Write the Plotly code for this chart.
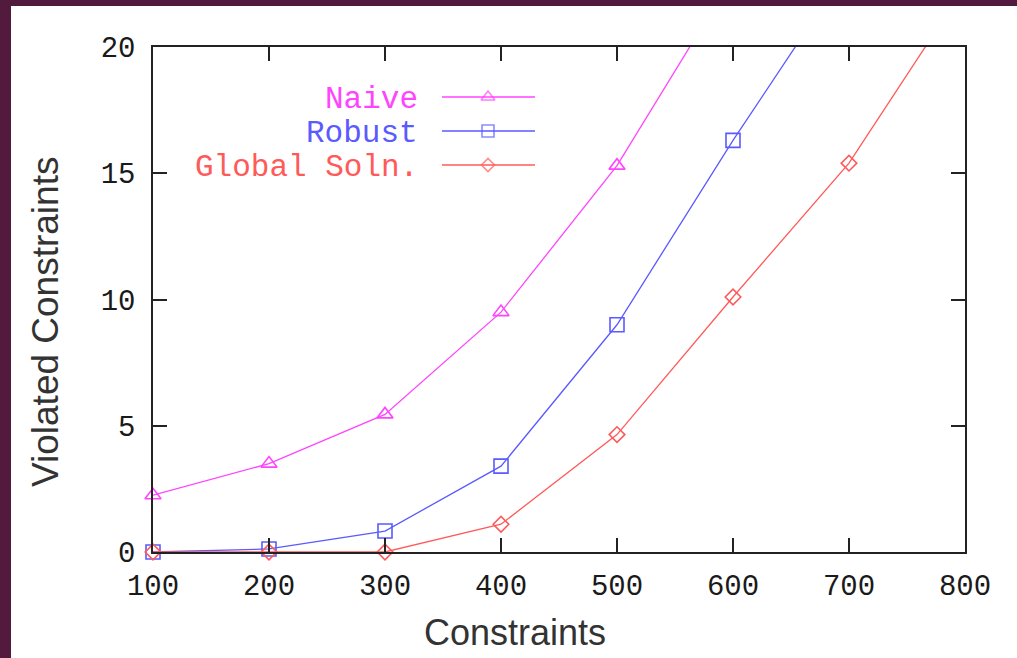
import plotly.graph_objects as go

# ---- data ----
constraints = [100, 200, 300, 400, 500, 600, 700, 800]
naive = [2.25, 3.5, 5.45, 9.5, 15.3, 22.8]
robust = [0.0, 0.12, 0.83, 3.4, 9.0, 16.3, 23.2]
global_soln = [0.0, 0.0, 0.0, 1.1, 4.65, 10.1, 15.4, 22.4]
series_names = ["Naive", "Robust", "Global Soln."]
x_ticks = [100, 200, 300, 400, 500, 600, 700, 800]
y_ticks = [0, 5, 10, 15, 20]
y_max = 20

colors = ["#ff44ff", "#5a5aff", "#ff5a5a"]
symbols = ["triangle-up-open", "square-open", "diamond-open"]
msizes = [14, 14, 12]
series = [naive, robust, global_soln]

W, H = 1017, 658
L, R, T, B = 153, 965, 47, 552
pw, ph = R - L, B - T

def px(xp):
    return (xp - L) / pw

def py(yp):
    return (B - yp) / ph

fig = go.Figure()
for name, vals, c, s, ms in zip(series_names, series, colors, symbols, msizes):
    xs = constraints[:len(vals)]
    # line (clipped to plot area)
    fig.add_trace(go.Scatter(
        x=xs, y=vals, mode="lines", name=name,
        line=dict(color=c, width=1.3), showlegend=False,
    ))
    # markers for in-range points, not clipped at the axes
    mx = [x for x, v in zip(xs, vals) if v <= y_max]
    my = [v for v in vals if v <= y_max]
    fig.add_trace(go.Scatter(
        x=mx, y=my, mode="markers", name=name, cliponaxis=False,
        marker=dict(symbol=s, size=ms, color=c, line=dict(color=c, width=1.6)),
        showlegend=False,
    ))

# legend key samples (layout, on a helper 0..1 axis pair)
legend_rows = [97, 131, 165]
for name, c, s, ms, ry in zip(series_names, colors, symbols, msizes, legend_rows):
    yy = py(ry)
    fig.add_trace(go.Scatter(
        x=[px(442), px(488), px(535)], y=[yy, yy, yy], mode="lines+markers",
        xaxis="x2", yaxis="y2", showlegend=False, hoverinfo="skip",
        line=dict(color=c, width=1.3),
        marker=dict(symbol=s, size=[0, ms - 2, 0], color=c, line=dict(color=c, width=1.6)),
    ))
    fig.add_annotation(
        text=name, xref="paper", yref="paper", x=px(420), y=py(ry + 2),
        xanchor="right", yanchor="middle", showarrow=False,
        font=dict(family="Liberation Mono", size=31, color=c),
    )

# white inner panel over dark frame
fig.add_shape(type="rect", xref="paper", yref="paper", layer="below",
              x0=px(11), x1=px(1030), y0=py(670), y1=py(6),
              fillcolor="white", line=dict(width=0))

axis_common = dict(
    showgrid=False, zeroline=False, showline=True, linecolor="#222222", linewidth=1.5,
    mirror="ticks", ticks="inside", ticklen=14, tickwidth=1.5, tickcolor="#222222",
    tickfont=dict(family="Liberation Mono", size=29, color="#1a1a1a"),
)

fig.update_layout(
    width=W, height=H,
    margin=dict(l=L, r=W - R, t=T, b=H - B),
    paper_bgcolor="#521a3d",
    plot_bgcolor="white",
    xaxis=dict(range=[100, 800], tickvals=x_ticks, ticklabelstandoff=6, **axis_common),
    yaxis=dict(range=[0, y_max], tickvals=y_ticks, ticklabelstandoff=10, **axis_common),
    xaxis2=dict(range=[0, 1], overlaying="x", anchor="y2", visible=False),
    yaxis2=dict(range=[0, 1], overlaying="y", anchor="x2", visible=False),
)

fig.add_annotation(text="Constraints", xref="paper", yref="paper",
                   x=px(515), y=py(632), xanchor="center", yanchor="middle",
                   showarrow=False,
                   font=dict(family="Liberation Sans", size=36, color="#333333"))
fig.add_annotation(text="Violated Constraints", xref="paper", yref="paper",
                   x=px(45), y=py(322), xanchor="center", yanchor="middle",
                   textangle=-90, showarrow=False,
                   font=dict(family="Liberation Sans", size=37, color="#333333"))

fig.write_html(
    "out.html",
    config={"displayModeBar": False},
    post_script="document.body.style.margin='0';document.body.style.overflow='hidden';",
)
